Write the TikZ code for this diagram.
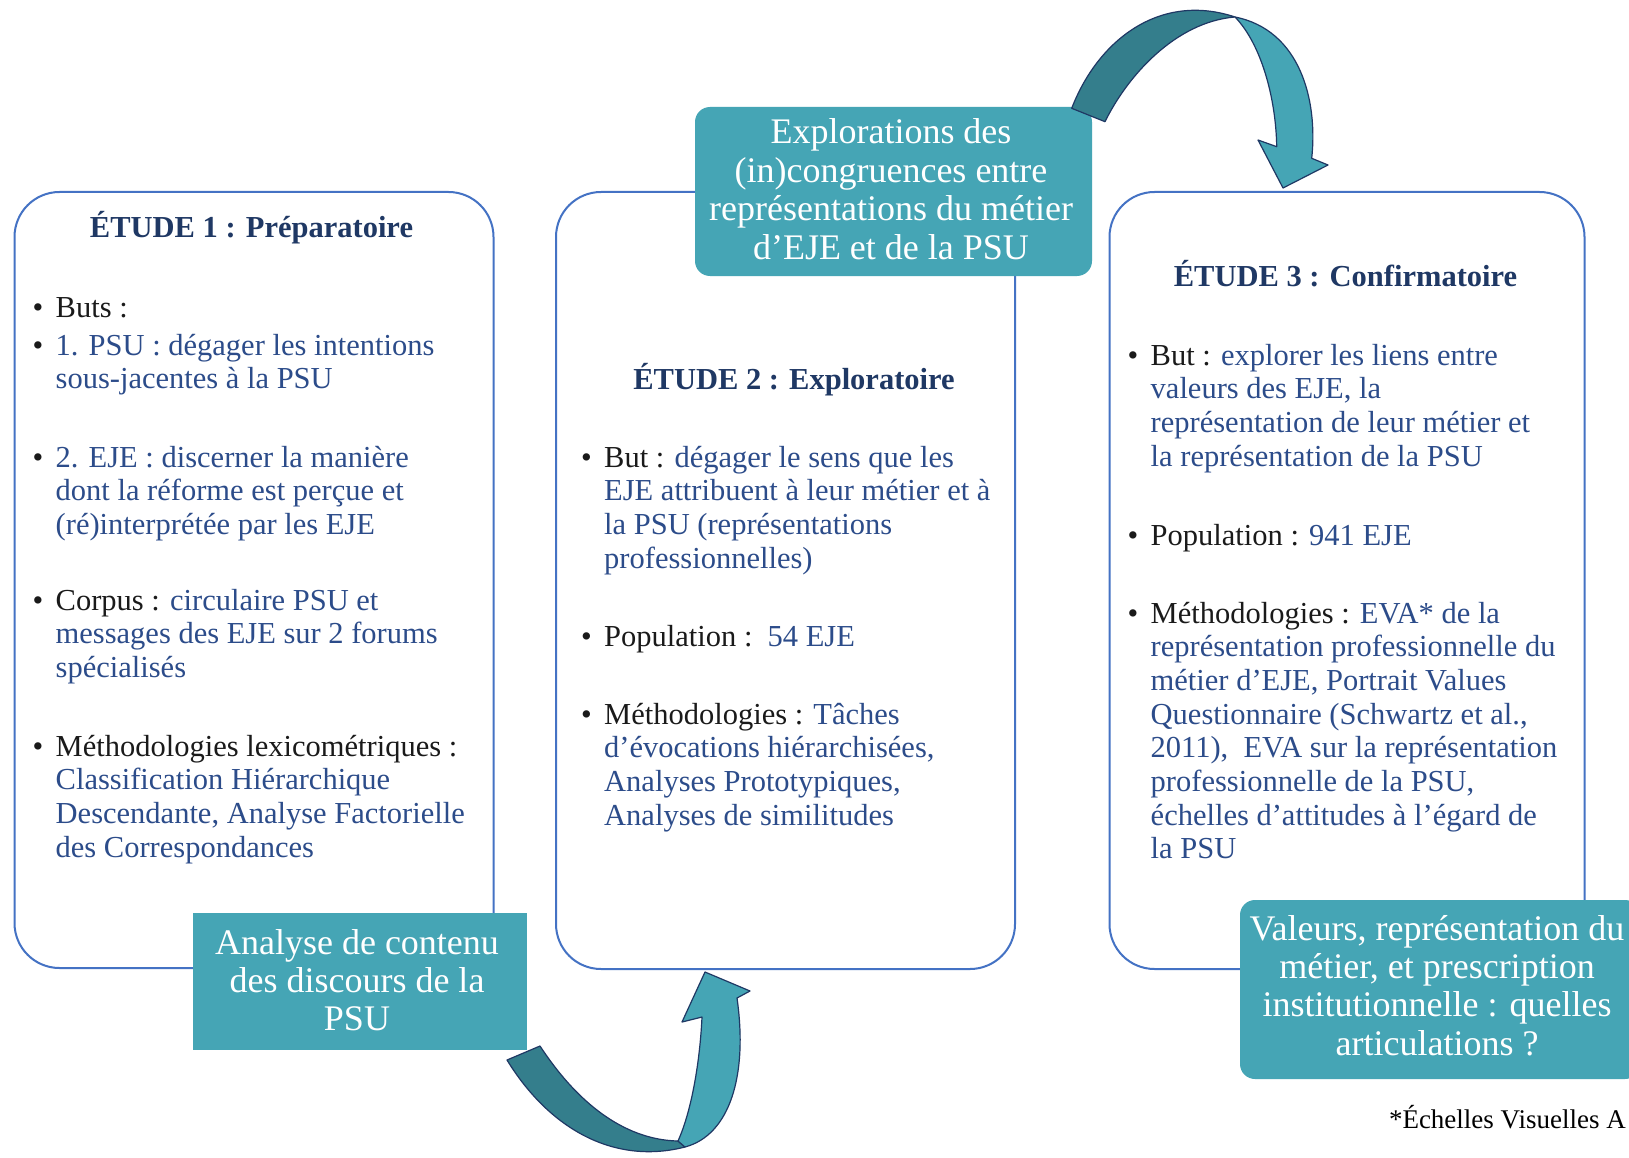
\documentclass[tikz,border=0pt]{standalone}
\usepackage{fontspec}
\setmainfont{Liberation Serif}
\definecolor{navy}{HTML}{1F3864}
\definecolor{itemblue}{HTML}{2C4C8A}
\definecolor{boxblue}{HTML}{4472C4}
\definecolor{tealfill}{HTML}{45A5B5}
\definecolor{arrowdark}{HTML}{347E8C}
\definecolor{arrowline}{HTML}{1F3864}
\definecolor{lbl}{HTML}{1A1A1A}
\newcommand{\bitem}[1]{\parbox[t]{600pt}{\hangindent=23pt\hangafter=1\noindent\makebox[23pt][l]{\color{lbl}•}#1}}
\newcommand{\lb}[1]{{\color{lbl}#1}}
\newcommand{\ctext}[1]{\parbox[t]{560pt}{\centering #1}}
\tikzset{
  wbox/.style={draw=boxblue, line width=2pt, rounded corners=45pt, fill=white, inner sep=0pt},
  tbox/.style={fill=tealfill, inner sep=0pt},
  body/.style={anchor=base west, inner sep=0pt, font=\fontsize{30.5}{33.7}\selectfont, text=itemblue},
  head/.style={anchor=base, inner sep=0pt, font=\fontsize{30.5}{33.7}\selectfont\bfseries, text=navy},
  tealtxt/.style={anchor=base, inner sep=0pt, font=\fontsize{36}{38.4}\selectfont, text=white},
  arrlight/.style={fill=tealfill, draw=arrowline, line width=1.2pt, line join=round},
  arrdark/.style={fill=arrowdark, draw=arrowline, line width=1.2pt, line join=round},
}
\begin{document}
\begin{tikzpicture}[x=1pt,y=-1pt]
\useasboundingbox (0,0) rectangle (1629,1158);
\clip (0,0) rectangle (1629,1158);
\fill[white] (0,0) rectangle (1629,1158);

% study boxes
\node[wbox, minimum width=479pt, minimum height=776pt] (s1) at (254,580) {};
\node[wbox, minimum width=459pt, minimum height=777pt] (s2) at (785.5,580.5) {};
\node[wbox, minimum width=475pt, minimum height=777pt] (s3) at (1347,580.5) {};

% box 1 text
\node[head] (h1) at (251.5,237) {ÉTUDE 1 : Préparatoire};
\node[body] (i1a) at (32.5,317) {\bitem{\lb{Buts :}}};
\node[body] (i1b) at (32.5,355) {\bitem{1. PSU : dégager les intentions\\sous-jacentes à la PSU}};
\node[body] (i1c) at (32.5,467) {\bitem{2. EJE : discerner la manière\\dont la réforme est perçue et\\(ré)interprétée par les EJE}};
\node[body] (i1d) at (32.5,610) {\bitem{\lb{Corpus :} circulaire PSU et\\messages des EJE sur 2 forums\\spécialisés}};
\node[body] (i1e) at (32.5,756) {\bitem{\lb{Méthodologies lexicométriques :}\\Classification Hiérarchique\\Descendante, Analyse Factorielle\\des Correspondances}};

% box 2 text
\node[head] (h2) at (794,389) {ÉTUDE 2 : Exploratoire};
\node[body] (i2a) at (581,467) {\bitem{\lb{But :} dégager le sens que les\\EJE attribuent à leur métier et à\\la PSU (représentations\\professionnelles)}};
\node[body] (i2b) at (581,646) {\bitem{\lb{Population :}\ \ 54 EJE}};
\node[body] (i2c) at (581,724) {\bitem{\lb{Méthodologies :} Tâches\\d’évocations hiérarchisées,\\Analyses Prototypiques,\\Analyses de similitudes}};

% box 3 text
\node[head] (h3) at (1345.5,287) {ÉTUDE 3 : Confirmatoire};
\node[body] (i3a) at (1127.5,365) {\bitem{\lb{But :} explorer les liens entre\\valeurs des EJE, la\\représentation de leur métier et\\la représentation de la PSU}};
\node[body] (i3b) at (1127.5,545) {\bitem{\lb{Population :} 941 EJE}};
\node[body] (i3c) at (1127.5,623) {\bitem{\lb{Méthodologies :} EVA* de la\\représentation professionnelle du\\métier d’EJE, Portrait Values\\Questionnaire (Schwartz et al.,\\2011),\ \ EVA sur la représentation\\professionnelle de la PSU,\\échelles d’attitudes à l’égard de\\la PSU}};

% teal boxes
\node[tbox, minimum width=334pt, minimum height=137pt] (ta) at (360,981.5) {};
\node[tealtxt] (tat) at (357,954) {\ctext{Analyse de contenu\\des discours de la\\PSU}};
\node[tbox, rounded corners=15pt, minimum width=397pt, minimum height=169pt] (tb) at (893.5,191.5) {};
\node[tealtxt] (tbt) at (891,144) {\ctext{Explorations des\\(in)congruences entre\\représentations du métier\\d’EJE et de la PSU}};
\node[tbox, rounded corners=15pt, minimum width=400pt, minimum height=179pt] (tc) at (1440,989.5) {};
\node[tealtxt] (tct) at (1437,940) {\ctext{Valeurs, représentation du\\métier, et prescription\\institutionnelle : quelles\\articulations ?}};

% footnote
\node[anchor=base east, inner sep=0pt, font=\fontsize{27}{30}\selectfont, text=black] (fn) at (1626,1128) {*Échelles Visuelles A};

% bottom curved arrow
\draw[arrdark] (507,1060) -- (540,1046) .. controls (582,1110) and (630,1140) .. (678,1141)
  -- (685,1147) .. controls (615,1165) and (550,1130) .. (507,1060) -- cycle;
\draw[arrlight] (678,1141) .. controls (692,1110) and (700,1060) .. (702,1017) -- (682,1022) -- (705,972)
  -- (750,991) -- (737,998) .. controls (748,1075) and (730,1135) .. (685,1147) -- cycle;

% top curved arrow
\draw[arrdark] (1071.7,108.3) .. controls (1098,40) and (1160,-8) .. (1235,17)
  .. controls (1175,22) and (1127,76.7) .. (1105,121.7) -- cycle;
\draw[arrlight] (1235,17) .. controls (1300,30) and (1318,100) .. (1311.7,158.3) -- (1328,165) -- (1283,188)
  -- (1258,140) -- (1276.7,146.7) .. controls (1276,100) and (1262,45) .. (1235,17) -- cycle;
\end{tikzpicture}
\end{document}
